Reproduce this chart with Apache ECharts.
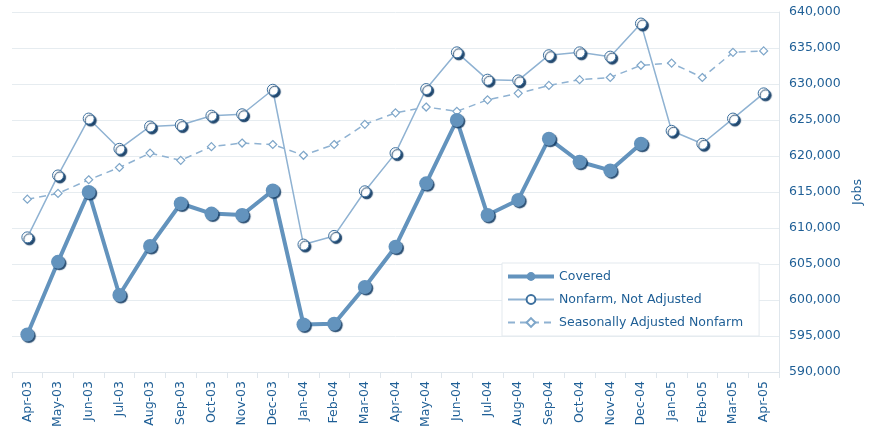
<!DOCTYPE html>
<html><head><meta charset="utf-8">
<script src="https://cdn.jsdelivr.net/npm/echarts@6/dist/echarts.min.js"></script>
<style>html,body{margin:0;padding:0;background:#fff}#c{width:872px;height:433px}</style>
</head><body><div id="c"></div>
<script>
var categories = ["Apr-03","May-03","Jun-03","Jul-03","Aug-03","Sep-03","Oct-03","Nov-03","Dec-03","Jan-04","Feb-04","Mar-04","Apr-04","May-04","Jun-04","Jul-04","Aug-04","Sep-04","Oct-04","Nov-04","Dec-04","Jan-05","Feb-05","Mar-05","Apr-05"];
var covered = [595200,605300,615000,600700,607500,613400,612000,611800,615200,596600,596700,601800,607400,616200,625000,611800,613900,622400,619200,618000,621700,null,null,null,null];
var nonfarm = [608700,617300,625200,621000,624100,624300,625600,625800,629200,607700,608900,615100,620400,629300,634400,630600,630500,634000,634400,633800,638400,623500,621700,625200,628700];
var seasonal = [614000,614800,616700,618400,620400,619400,621300,621800,621600,620100,621600,624400,626000,626800,626200,627800,628700,629800,630600,630900,632600,632900,630900,634400,634600];

var txt = '#1f5f96';
var font = 'DejaVu Sans';
var chart = echarts.init(document.getElementById('c'));
chart.setOption({
  animation: false,
  textStyle: {fontFamily: font},
  grid: {left: 12, right: 93, top: 12, bottom: 61, containLabel: false, outerBoundsMode: 'none'},
  legend: {
    orient: 'vertical', left: 502, top: 263,
    backgroundColor: '#fff', borderColor: '#e3e9ee', borderWidth: 1,
    padding: [7, 16, 7, 4], itemGap: 10, itemWidth: 46, itemHeight: 11,
    textStyle: {color: txt, fontSize: 12.5, fontFamily: font},
    data: [
      {name: 'Covered', lineStyle: {width: 4}},
      {name: 'Nonfarm, Not Adjusted'},
      {name: 'Seasonally Adjusted Nonfarm'}
    ]
  },
  xAxis: {
    type: 'category', data: categories, boundaryGap: true,
    axisLine: {lineStyle: {color: '#dfe6ec'}},
    axisTick: {show: true, length: 6, lineStyle: {color: '#dfe6ec'}},
    axisLabel: {rotate: 90, color: txt, fontSize: 12.5, fontFamily: font, margin: 9, interval: 0},
    splitLine: {show: false}
  },
  yAxis: {
    type: 'value', position: 'right', min: 590000, max: 640000, interval: 5000,
    name: 'Jobs', nameLocation: 'middle', nameRotate: 90, nameGap: 71,
    nameTextStyle: {color: txt, fontSize: 12.5, fontFamily: font},
    axisLine: {show: true, lineStyle: {color: '#dfe6ec'}},
    axisTick: {show: false},
    axisLabel: {color: txt, fontSize: 12.5, fontFamily: font, margin: 10,
      formatter: function(v){ return v.toLocaleString('en-US'); }},
    splitLine: {lineStyle: {color: '#e6ecf0'}}
  },
  series: [
    {
      name: 'Covered', type: 'line', data: covered, connectNulls: false,
      symbol: 'circle', symbolSize: 14,
      lineStyle: {color: '#6393bd', width: 4},
      itemStyle: {color: '#6393bd', borderWidth: 0,
        shadowColor: 'rgba(20,60,100,0.9)', shadowOffsetX: 1.5, shadowOffsetY: 1.5, shadowBlur: 1},
      z: 3
    },
    {
      name: 'Nonfarm, Not Adjusted', type: 'line', data: nonfarm,
      symbol: 'circle', symbolSize: 11,
      lineStyle: {color: '#8fb2d2', width: 1.5},
      itemStyle: {color: '#ffffff', borderColor: '#3d709e', borderWidth: 1,
        shadowColor: 'rgba(20,60,100,0.95)', shadowOffsetX: 2, shadowOffsetY: 2, shadowBlur: 1},
      z: 2
    },
    {
      name: 'Seasonally Adjusted Nonfarm', type: 'line', data: seasonal,
      symbol: 'diamond', symbolSize: 8,
      lineStyle: {color: '#8fb2d2', width: 1.5, type: [7, 5]},
      itemStyle: {color: '#ffffff', borderColor: '#7ea6c9', borderWidth: 1.2},
      z: 1
    }
  ]
});
</script></body></html>
